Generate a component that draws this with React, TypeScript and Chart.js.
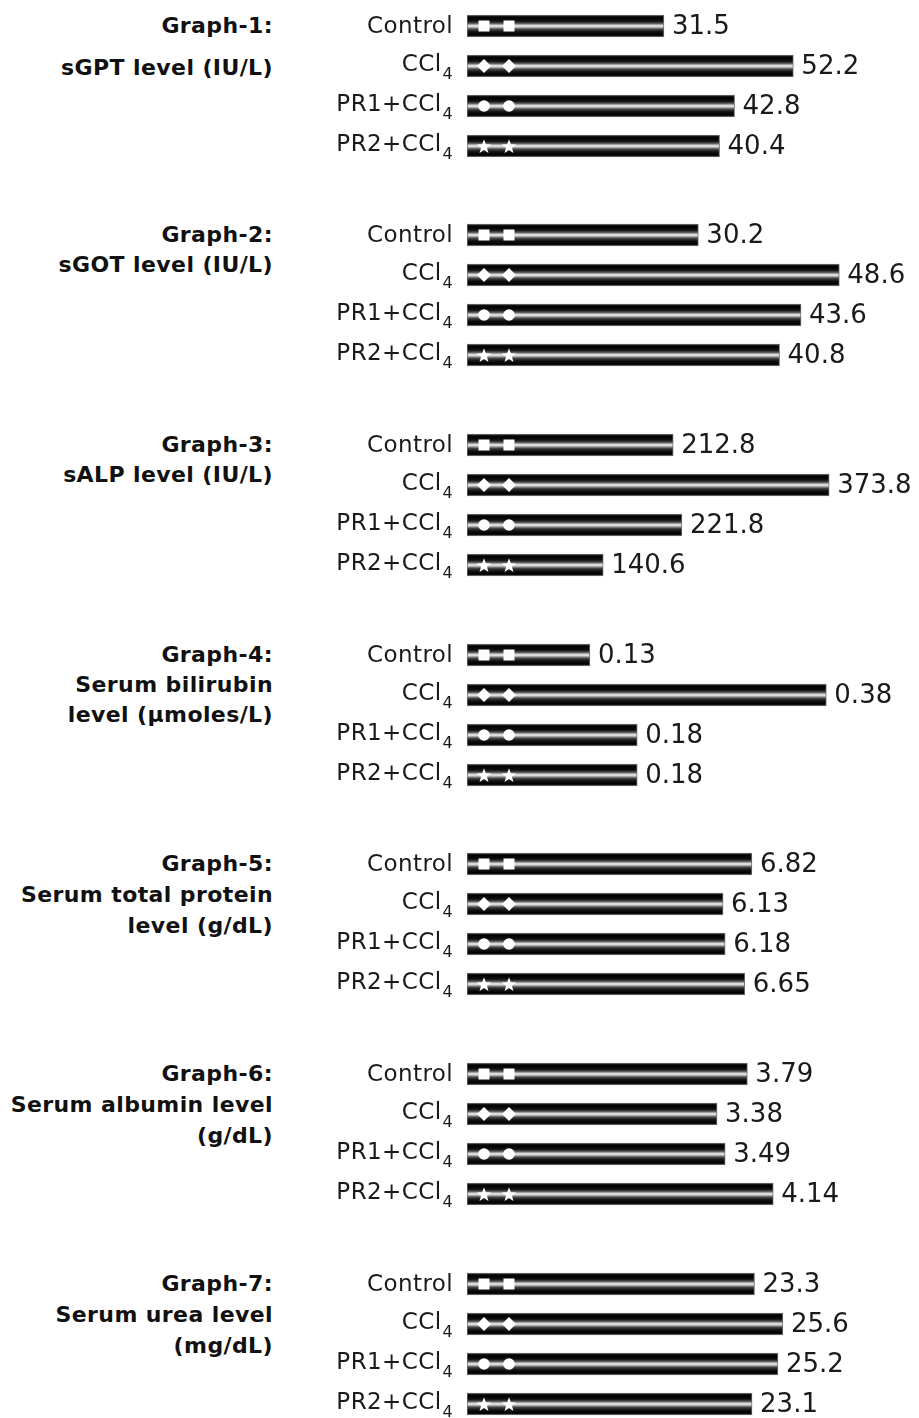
import React, { useEffect, useRef } from "react";
import { Chart, registerables } from "chart.js";

Chart.register(...registerables);

// ---------- DATA ----------
const categories = ["Control", "CCl_4", "PR1+CCl_4", "PR2+CCl_4"];

const graphTitles: string[][] = [
  ["Graph-1:", "sGPT level (IU/L)"],
  ["Graph-2:", "sGOT level (IU/L)"],
  ["Graph-3:", "sALP level (IU/L)"],
  ["Graph-4:", "Serum bilirubin", "level (\u00b5moles/L)"],
  ["Graph-5:", "Serum total protein", "level (g/dL)"],
  ["Graph-6:", "Serum albumin level", "(g/dL)"],
  ["Graph-7:", "Serum urea level", "(mg/dL)"],
];

const sGPT = [31.5, 52.2, 42.8, 40.4];
const sGOT = [30.2, 48.6, 43.6, 40.8];
const sALP = [212.8, 373.8, 221.8, 140.6];
const bilirubin = [0.13, 0.38, 0.18, 0.18];
const totalProtein = [6.82, 6.13, 6.18, 6.65];
const albumin = [3.79, 3.38, 3.49, 4.14];
const urea = [23.3, 25.6, 25.2, 23.1];

const valueLabels: string[][] = [
  ["31.5", "52.2", "42.8", "40.4"],
  ["30.2", "48.6", "43.6", "40.8"],
  ["212.8", "373.8", "221.8", "140.6"],
  ["0.13", "0.38", "0.18", "0.18"],
  ["6.82", "6.13", "6.18", "6.65"],
  ["3.79", "3.38", "3.49", "4.14"],
  ["23.3", "25.6", "25.2", "23.1"],
];

const seriesList = [sGPT, sGOT, sALP, bilirubin, totalProtein, albumin, urea];

// axis maximum of each panel (each panel has its own scale)
const axisMax = [72.3, 59.0, 466.5, 0.478, 10.82, 6.11, 36.63];

// ---------- LAYOUT ----------
const PAGE_W = 919;
const PAGE_H = 1418;
const CHART_H = 160;
const BAR_LEFT = 467;
const LABEL_RIGHT = 453;
const TITLE_RIGHT = 273;
const groupTops = [6, 215, 425, 635, 844, 1054, 1264];
const titleLineGaps = [42, 30, 30, 30, 31, 31, 31];

const FONT = '"DejaVu Sans", Verdana, sans-serif';
const markerShapes = ["square", "diamond", "circle", "star"];

function drawMarker(ctx: CanvasRenderingContext2D, shape: string, x: number, y: number) {
  ctx.save();
  ctx.fillStyle = "#ffffff";
  ctx.beginPath();
  if (shape === "square") {
    ctx.rect(x - 5.5, y - 5.5, 11, 11);
  } else if (shape === "diamond") {
    ctx.moveTo(x, y - 7);
    ctx.lineTo(x + 7, y);
    ctx.lineTo(x, y + 7);
    ctx.lineTo(x - 7, y);
    ctx.closePath();
  } else if (shape === "circle") {
    ctx.arc(x, y, 5.8, 0, Math.PI * 2);
  } else {
    const outer = 7.6;
    const inner = 3.1;
    for (let i = 0; i < 10; i++) {
      const r = i % 2 === 0 ? outer : inner;
      const a = -Math.PI / 2 + (i * Math.PI) / 5;
      const px = x + r * Math.cos(a);
      const py = y + 0.8 + r * Math.sin(a);
      if (i === 0) ctx.moveTo(px, py);
      else ctx.lineTo(px, py);
    }
    ctx.closePath();
  }
  ctx.fill();
  ctx.restore();
}

function drawCategoryLabel(ctx: CanvasRenderingContext2D, label: string, right: number, y: number) {
  const parts = label.split("_");
  ctx.save();
  ctx.fillStyle = "#1a1a1a";
  ctx.textAlign = "right";
  ctx.textBaseline = "alphabetic";
  (ctx as any).letterSpacing = "0.4px";
  if (parts.length === 2) {
    ctx.font = `16px ${FONT}`;
    const subW = ctx.measureText(parts[1]).width;
    ctx.fillText(parts[1], right, y + 13);
    ctx.font = `23px ${FONT}`;
    ctx.fillText(parts[0], right - subW - 1, y + 5);
  } else {
    ctx.font = `23px ${FONT}`;
    ctx.fillText(label, right, y + 7);
  }
  ctx.restore();
}

function makeDecorPlugin(labels: string[]) {
  return {
    id: "decor",
    afterDatasetsDraw(chart: any) {
      const ctx: CanvasRenderingContext2D = chart.ctx;
      const meta = chart.getDatasetMeta(0);
      meta.data.forEach((bar: any, i: number) => {
        const { x, y, base } = bar.getProps(["x", "y", "base"], true);
        const shape = markerShapes[i];
        drawMarker(ctx, shape, base + 17, y);
        drawMarker(ctx, shape, base + 42, y);
        drawCategoryLabel(ctx, categories[i], LABEL_RIGHT, y);
        ctx.save();
        ctx.fillStyle = "#1a1a1a";
        ctx.font = `26px ${FONT}`;
        ctx.textAlign = "left";
        ctx.textBaseline = "middle";
        ctx.fillText(labels[i], x + 8, y + 1);
        ctx.restore();
      });
    },
  };
}

function gradientFill(context: any) {
  const chart = context.chart;
  if (!chart.chartArea || !chart.scales.y) return "#000";
  const yc = chart.scales.y.getPixelForValue(context.dataIndex);
  const g = chart.ctx.createLinearGradient(0, yc - 11, 0, yc + 11);
  g.addColorStop(0, "#2a2a2a");
  g.addColorStop(0.12, "#000000");
  g.addColorStop(0.28, "#111111");
  g.addColorStop(0.38, "#555555");
  g.addColorStop(0.46, "#c8c8c8");
  g.addColorStop(0.5, "#f2f2f2");
  g.addColorStop(0.55, "#c0c0c0");
  g.addColorStop(0.65, "#444444");
  g.addColorStop(0.76, "#141414");
  g.addColorStop(0.9, "#000000");
  g.addColorStop(1, "#2a2a2a");
  return g;
}

function BarPanel({ idx }: { idx: number }) {
  const ref = useRef<HTMLCanvasElement>(null);
  useEffect(() => {
    if (!ref.current) return;
    const chart = new Chart(ref.current, {
      type: "bar",
      data: {
        labels: categories,
        datasets: [
          {
            data: seriesList[idx],
            backgroundColor: gradientFill,
            borderColor: "#707070",
            borderWidth: 1,
            borderSkipped: false,
            barThickness: 22,
          } as any,
        ],
      },
      options: {
        indexAxis: "y",
        responsive: false,
        animation: false,
        events: [],
        layout: { padding: { left: BAR_LEFT, right: 0, top: 0, bottom: 0 } },
        scales: {
          x: { display: false, min: 0, max: axisMax[idx] },
          y: { display: false },
        },
        plugins: {
          legend: { display: false },
          tooltip: { enabled: false },
          title: { display: false },
        },
      },
      plugins: [makeDecorPlugin(valueLabels[idx])],
    });
    return () => chart.destroy();
  }, [idx]);
  return (
    <canvas
      ref={ref}
      width={PAGE_W}
      height={CHART_H}
      style={{ position: "absolute", left: 0, top: groupTops[idx], width: PAGE_W, height: CHART_H }}
    />
  );
}

function Title({ idx }: { idx: number }) {
  const lines = graphTitles[idx];
  return (
    <>
      {lines.map((t, k) => (
        <div
          key={k}
          style={{
            position: "absolute",
            left: 0,
            width: TITLE_RIGHT,
            top: groupTops[idx] + 20 + k * titleLineGaps[idx] - 15,
            height: 30,
            lineHeight: "30px",
            textAlign: "right",
            fontFamily: FONT,
            fontWeight: "bold",
            fontSize: 22,
            letterSpacing: "0.4px",
            color: "#111",
            whiteSpace: "nowrap",
          }}
        >
          {t}
        </div>
      ))}
    </>
  );
}

export default function App() {
  return (
    <div
      style={{
        position: "absolute",
        left: 0,
        top: 0,
        width: PAGE_W,
        height: PAGE_H,
        background: "#ffffff",
        overflow: "hidden",
      }}
    >
      {seriesList.map((_, i) => (
        <React.Fragment key={i}>
          <Title idx={i} />
          <BarPanel idx={i} />
        </React.Fragment>
      ))}
    </div>
  );
}
